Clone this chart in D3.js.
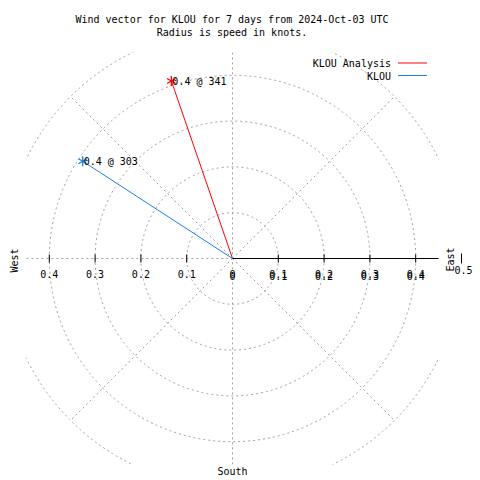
<!DOCTYPE html>
<html><head><meta charset="utf-8">
<script src="https://cdn.jsdelivr.net/npm/d3@7"></script>
<style>body{margin:0;background:#fff}svg{display:block}text{font-family:"DejaVu Sans Mono",monospace;font-size:10px;fill:#000}</style>
</head><body><svg id="c" width="480" height="480"></svg>
<script>
const titleLines = ["Wind vector for KLOU for 7 days from 2024-Oct-03 UTC", "Radius is speed in knots."];
const seriesNames = ["KLOU Analysis", "KLOU"];
const seriesColors = ["#ff0000", "#1a80e6"];
const speeds = [0.41, 0.39];
const directions = [341, 303];
const ringValues = [0.1, 0.2, 0.3, 0.4, 0.5];
const spokeAngles = [45, 135, 225, 315];
const tickValues = [0.1, 0.2, 0.3, 0.4];
const compassLabels = ["West", "East", "South"];

const svg = d3.select("#c");
const cx = 232.5, cy = 258.5, R = 229;
const x = d3.scaleLinear().domain([-0.5, 0.5]).range([cx - R, cx + R]);
const y = d3.scaleLinear().domain([-0.5, 0.5]).range([cy + R, cy - R]);
const r = d3.scaleLinear().domain([0, 0.5]).range([0, R]);
const lim = 0.45;

svg.append("defs").append("clipPath").attr("id", "plot").append("rect")
  .attr("x", x(-lim)).attr("y", y(lim)).attr("width", x(lim) - x(-lim)).attr("height", y(-lim) - y(lim));

const grid = svg.append("g").attr("clip-path", "url(#plot)")
  .attr("fill", "none").attr("stroke", "#a0a0a0").attr("stroke-dasharray", "2,3");
grid.selectAll("circle").data(ringValues).join("circle")
  .attr("cx", x(0)).attr("cy", y(0)).attr("r", d => r(d));
grid.selectAll("line.sp").data(spokeAngles).join("line").attr("class", "sp")
  .attr("x1", x(0)).attr("y1", y(0))
  .attr("x2", d => x(0.5 * Math.cos(d * Math.PI / 180)))
  .attr("y2", d => y(0.5 * Math.sin(d * Math.PI / 180)));
grid.append("line").attr("x1", x(0)).attr("x2", x(0)).attr("y1", y(lim)).attr("y2", y(-lim));
grid.append("line").attr("x1", x(-lim)).attr("x2", x(0)).attr("y1", y(0)).attr("y2", y(0));

// r axis
svg.append("line").attr("x1", x(0)).attr("x2", x(lim)).attr("y1", y(0)).attr("y2", y(0))
  .attr("stroke", "#000");
const allTicks = tickValues.concat(tickValues.map(d => -d));
svg.selectAll("line.tk").data(allTicks).join("line").attr("class", "tk")
  .attr("x1", d => x(d)).attr("x2", d => x(d)).attr("y1", y(0) - 4).attr("y2", y(0) + 4)
  .attr("stroke", "#000");
svg.append("line").attr("x1", x(0.5)).attr("x2", x(0.5)).attr("y1", y(0) - 5).attr("y2", y(0) + 5).attr("stroke", "#000");

const fmt = d3.format(".1f");
svg.selectAll("text.tl").data(allTicks.concat([0])).join("text").attr("class", "tl")
  .attr("x", d => x(d)).attr("y", y(0) + 19).attr("text-anchor", "middle")
  .text(d => d === 0 ? "0" : fmt(Math.abs(d)));
svg.selectAll("text.tr").data(tickValues.concat([0])).join("text").attr("class", "tr")
  .attr("x", d => x(d)).attr("y", y(0) + 21).attr("text-anchor", "middle")
  .text(d => d === 0 ? "0" : fmt(d));
svg.append("text").attr("x", x(0.5) + 2).attr("y", y(0) + 15).attr("text-anchor", "middle").text("0.5");

// compass labels
svg.append("text").attr("transform", `translate(18,${cy + 2}) rotate(-90)`).attr("text-anchor", "middle").text(compassLabels[0]);
svg.append("text").attr("transform", `translate(454,${cy + 1}) rotate(-90)`).attr("text-anchor", "middle").text(compassLabels[1]);
svg.append("text").attr("x", x(0)).attr("y", 475).attr("text-anchor", "middle").text(compassLabels[2]);

// title
svg.selectAll("text.ti").data(titleLines).join("text").attr("class", "ti")
  .attr("x", 232).attr("y", (d, i) => 23 + i * 13).attr("text-anchor", "middle").text(d => d);

// vectors
const pts = speeds.map((s, i) => {
  const a = directions[i] * Math.PI / 180;
  return { px: x(s * Math.sin(a)), py: y(s * Math.cos(a)), s, d: directions[i], c: seriesColors[i] };
});
svg.selectAll("line.vec").data(pts).join("line").attr("class", "vec")
  .attr("x1", x(0)).attr("y1", y(0)).attr("x2", d => d.px).attr("y2", d => d.py)
  .attr("stroke", d => d.c);
svg.selectAll("path.mk").data(pts).join("path").attr("class", "mk")
  .attr("transform", d => `translate(${d.px},${d.py})`)
  .attr("d", d3.symbol(d3.symbolAsterisk, 70)).attr("fill", "none").attr("stroke", d => d.c).attr("stroke-width", 1.3);
svg.selectAll("text.pl").data(pts).join("text").attr("class", "pl")
  .attr("x", d => d.px + 1).attr("y", d => d.py + 4).text(d => fmt(d.s) + " @ " + d.d);

// legend
const lg = svg.selectAll("g.lg").data(seriesNames).join("g").attr("class", "lg")
  .attr("transform", (d, i) => `translate(0,${63 + i * 12.5})`);
lg.append("text").attr("x", 391).attr("y", 4).attr("text-anchor", "end").text(d => d);
lg.append("line").attr("x1", 398).attr("x2", 427).attr("y1", 0).attr("y2", 0)
  .attr("stroke", (d, i) => seriesColors[i]);
</script></body></html>
